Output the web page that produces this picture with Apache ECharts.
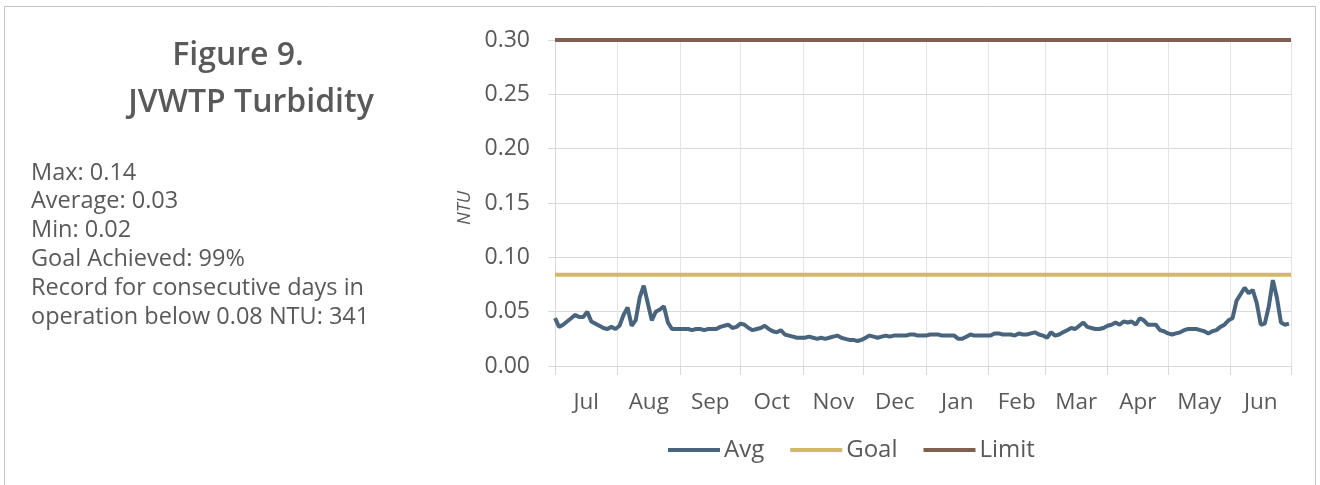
<!DOCTYPE html>
<html>
<head>
<meta charset="utf-8">
<title>JVWTP Turbidity</title>
<script src="https://cdn.jsdelivr.net/npm/echarts@6/dist/echarts.min.js"></script>
<style>
  html, body { margin: 0; padding: 0; background: #ffffff; }
  #chart { width: 1320px; height: 485px; }
</style>
</head>
<body>
<div id="chart"></div>
<script>
// Fiscal year runs July 1 → June 30; x values are days since July 1.
const monthLabels = ['Jul', 'Aug', 'Sep', 'Oct', 'Nov', 'Dec', 'Jan', 'Feb', 'Mar', 'Apr', 'May', 'Jun'];
const monthDays = [31, 31, 30, 31, 30, 31, 31, 28, 31, 30, 31, 30];

// Daily average filtered-water turbidity (NTU), one reading every 2 days from July 1.
const avgStepDays = 2;
const avgNtu = [
  0.044, 0.036, 0.038, 0.041, 0.044, 0.047, 0.045, 0.045, 0.050, 0.041,
  0.039, 0.037, 0.035, 0.034, 0.036, 0.034, 0.037, 0.047, 0.054, 0.037,
  0.042, 0.063, 0.074, 0.058, 0.042, 0.050, 0.052, 0.055, 0.040, 0.034,
  0.034, 0.034, 0.034, 0.034, 0.033, 0.034, 0.034, 0.033, 0.034, 0.034,
  0.034, 0.036, 0.037, 0.038, 0.035, 0.036, 0.039, 0.038, 0.035, 0.033,
  0.034, 0.035, 0.037, 0.034, 0.032, 0.031, 0.033, 0.029, 0.028, 0.027,
  0.026, 0.026, 0.026, 0.027, 0.026, 0.025, 0.026, 0.025, 0.026, 0.027,
  0.028, 0.026, 0.025, 0.024, 0.024, 0.023, 0.024, 0.026, 0.028, 0.027,
  0.026, 0.027, 0.028, 0.027, 0.028, 0.028, 0.028, 0.028, 0.029, 0.029,
  0.028, 0.028, 0.028, 0.029, 0.029, 0.029, 0.028, 0.028, 0.028, 0.028,
  0.025, 0.025, 0.027, 0.029, 0.028, 0.028, 0.028, 0.028, 0.028, 0.030,
  0.030, 0.029, 0.029, 0.029, 0.028, 0.030, 0.029, 0.029, 0.030, 0.031,
  0.029, 0.028, 0.026, 0.031, 0.028, 0.029, 0.031, 0.033, 0.035, 0.034,
  0.037, 0.040, 0.036, 0.035, 0.034, 0.034, 0.035, 0.037, 0.038, 0.040,
  0.038, 0.041, 0.040, 0.041, 0.038, 0.044, 0.042, 0.038, 0.038, 0.038,
  0.033, 0.032, 0.030, 0.029, 0.030, 0.031, 0.033, 0.034, 0.034, 0.034,
  0.033, 0.032, 0.030, 0.032, 0.033, 0.036, 0.038, 0.042, 0.044, 0.060,
  0.066, 0.072, 0.067, 0.070, 0.058, 0.038, 0.039, 0.055, 0.079, 0.063,
  0.040, 0.038, 0.039
];

const goalNtu = 0.084;
const limitNtu = 0.30;
const yTicks = [0, 0.05, 0.10, 0.15, 0.20, 0.25, 0.30];

const summaryLines = [
  'Max: 0.14',
  'Average: 0.03',
  'Min: 0.02',
  'Goal Achieved: 99%',
  'Record for consecutive days in',
  'operation below 0.08 NTU: 341'
];

// Month boundaries (gridlines) and month centres (labels)
const monthStarts = [0];
monthDays.forEach(d => monthStarts.push(monthStarts[monthStarts.length - 1] + d));
const yearDays = monthStarts[monthStarts.length - 1];
const monthCenters = monthDays.map((d, i) => monthStarts[i] + d / 2);

const avgData = avgNtu.map((v, i) => [i * avgStepDays, v]);
const goalData = [[0, goalNtu], [yearDays, goalNtu]];
const limitData = [[0, limitNtu], [yearDays, limitNtu]];

const textColor = '#595959';
const fontFamily = '"Open Sans", "Noto Sans", sans-serif';
const colors = { avg: '#49647d', goal: '#d2b966', limit: '#80604f' };

const chart = echarts.init(document.getElementById('chart'), null, { renderer: 'canvas' });

const summaryGraphics = summaryLines.map((t, i) => ({
  type: 'text',
  x: 31,
  y: 173 + i * 28.8,
  style: { text: t, fill: textColor, font: '23.5px ' + fontFamily, verticalAlign: 'middle' }
}));

chart.setOption({
  backgroundColor: '#ffffff',
  animation: false,
  textStyle: { fontFamily: fontFamily, color: textColor },
  graphic: [
    {
      type: 'rect',
      shape: { x: 4.5, y: 6.5, width: 1311, height: 490 },
      style: { fill: 'none', stroke: '#c4c4c4', lineWidth: 1 },
      silent: true
    },
    {
      type: 'text',
      x: 238, y: 56,
      style: { text: 'Figure 9.', fill: textColor, font: '600 32px ' + fontFamily, align: 'center', verticalAlign: 'middle' }
    },
    {
      type: 'text',
      x: 251, y: 103,
      style: { text: 'JVWTP Turbidity', fill: textColor, font: '600 32px ' + fontFamily, align: 'center', verticalAlign: 'middle' }
    }
  ].concat(summaryGraphics),
  legend: {
    left: 663,
    top: 433,
    itemWidth: 52,
    itemHeight: 4,
    itemGap: 26,
    textStyle: { fontSize: 24, color: textColor, fontFamily: fontFamily, padding: [0, 0, 0, -1] },
    data: [
      { name: 'Avg', icon: 'rect' },
      { name: 'Goal', icon: 'rect' },
      { name: 'Limit', icon: 'rect' }
    ]
  },
  grid: { left: 555, right: 29, top: 40, bottom: 119, containLabel: false },
  xAxis: {
    type: 'value',
    min: 0,
    max: yearDays,
    axisLine: { show: true, lineStyle: { color: '#d9d9d9', width: 1 } },
    axisTick: { show: true, length: 9, lineStyle: { color: '#d9d9d9' }, customValues: monthStarts },
    splitLine: { show: true, lineStyle: { color: '#e3e3e3', width: 1 } },
    axisLabel: {
      customValues: monthCenters,
      margin: 25,
      fontSize: 22.5,
      color: textColor,
      fontFamily: fontFamily,
      formatter: v => {
        const i = monthCenters.indexOf(v);
        return i >= 0 ? monthLabels[i] : '';
      }
    }
  },
  yAxis: {
    type: 'value',
    min: 0,
    max: 0.30,
    interval: 0.05,
    name: 'NTU',
    nameLocation: 'middle',
    nameRotate: 90,
    nameGap: 80,
    nameTextStyle: { fontSize: 18, fontStyle: 'italic', color: textColor, fontFamily: fontFamily, padding: [0, 10, 0, 0] },
    axisLine: { show: true, lineStyle: { color: '#d9d9d9', width: 1 } },
    axisTick: { show: true, length: 7, lineStyle: { color: '#d9d9d9' }, customValues: yTicks },
    splitLine: { show: true, lineStyle: { color: '#d9d9d9', width: 1 } },
    axisLabel: {
      margin: 25,
      fontSize: 23,
      color: textColor,
      fontFamily: fontFamily,
      formatter: v => v.toFixed(2)
    }
  },
  series: [
    {
      name: 'Avg',
      type: 'line',
      data: avgData,
      symbol: 'none',
      smooth: false,
      lineStyle: { color: colors.avg, width: 4 },
      itemStyle: { color: colors.avg },
      z: 4
    },
    {
      name: 'Goal',
      type: 'line',
      data: goalData,
      symbol: 'none',
      lineStyle: { color: colors.goal, width: 4 },
      itemStyle: { color: colors.goal },
      z: 3
    },
    {
      name: 'Limit',
      type: 'line',
      data: limitData,
      symbol: 'none',
      lineStyle: { color: colors.limit, width: 4 },
      itemStyle: { color: colors.limit },
      z: 3
    }
  ]
});
</script>
</body>
</html>
